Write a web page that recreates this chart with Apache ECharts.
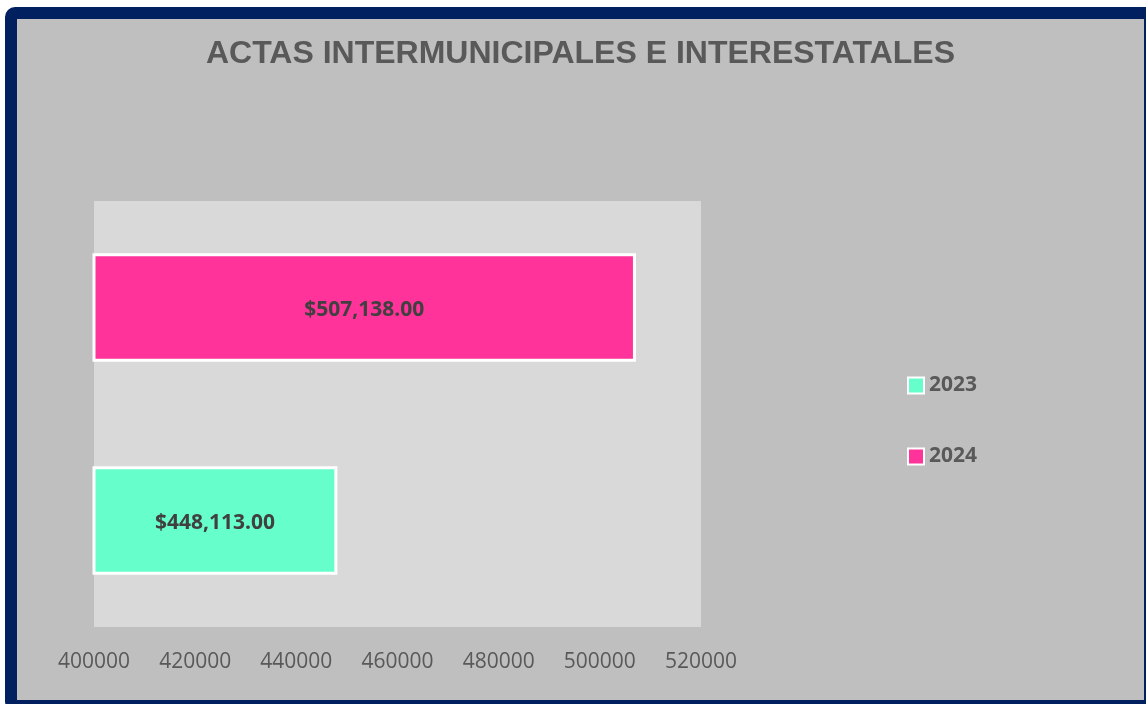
<!DOCTYPE html>
<html>
<head>
<meta charset="utf-8">
<script src="https://cdn.jsdelivr.net/npm/echarts@6/dist/echarts.min.js"></script>
<style>
  html, body { margin: 0; padding: 0; background: #ffffff; overflow: hidden; width: 1146px; height: 704px; }
  #frame {
    position: absolute; left: 5px; top: 7px;
    width: 1127px; height: 681px;
    border: 12px solid #002060; border-radius: 10px;
    background: #bfbfbf; overflow: hidden;
  }
  #chart { width: 1127px; height: 681px; }
</style>
</head>
<body>
<div id="frame"><div id="chart"></div></div>
<script>
// categories (bottom to top) and values
var years = ['2023', '2024'];
var values2023 = [448113, '-'];
var values2024 = ['-', 507138];
var axisMin = 400000, axisMax = 520000, axisStep = 20000;

var chart = echarts.init(document.getElementById('chart'), null, { renderer: 'canvas' });

function money(v) {
  return '$' + Number(v).toLocaleString('en-US', { minimumFractionDigits: 2, maximumFractionDigits: 2 });
}

var labelStyle = {
  show: true,
  position: 'inside',
  offset: [0, 3],
  color: '#404040',
  fontFamily: '"Open Sans", "Noto Sans", sans-serif',
  fontWeight: 'bold',
  fontSize: 21,
  formatter: function (p) { return money(p.value); }
};

var option = {
  backgroundColor: '#bfbfbf',
  animation: false,
  title: {
    text: 'ACTAS INTERMUNICIPALES E INTERESTATALES',
    left: 'center',
    top: 14,
    textStyle: { color: '#595959', fontFamily: '"Liberation Sans", Arial, sans-serif', fontWeight: 'bold', fontSize: 32 }
  },
  legend: {
    orient: 'vertical',
    left: 885,
    top: 351,
    icon: 'rect',
    itemWidth: 16,
    itemHeight: 16,
    itemGap: 50,
    itemTextGap: 6,
    data: ['2023', '2024'],
    textStyle: { color: '#595959', fontFamily: '"Open Sans", "Noto Sans", sans-serif', fontWeight: 'bold', fontSize: 21 }
  },
  grid: {
    left: 77, right: 443, top: 182, bottom: 73,
    show: true, backgroundColor: '#d9d9d9', borderWidth: 0,
    containLabel: false
  },
  xAxis: {
    type: 'value',
    min: axisMin, max: axisMax, interval: axisStep,
    axisLine: { show: false },
    axisTick: { show: false },
    splitLine: { show: false },
    axisLabel: {
      color: '#595959', fontFamily: '"Open Sans", "Noto Sans", sans-serif', fontSize: 21, margin: 25,
      formatter: function (v) { return String(v); }
    }
  },
  yAxis: {
    type: 'category',
    data: years,
    axisLine: { show: false },
    axisTick: { show: false },
    axisLabel: { show: false }
  },
  series: [
    {
      name: '2023', type: 'bar', stack: 'all', barWidth: '51%',
      data: values2023,
      itemStyle: { color: '#66ffcc', borderColor: '#ffffff', borderWidth: 3 },
      label: labelStyle
    },
    {
      name: '2024', type: 'bar', stack: 'all', barWidth: '51%',
      data: values2024,
      itemStyle: { color: '#ff3399', borderColor: '#ffffff', borderWidth: 3 },
      label: labelStyle
    }
  ]
};

chart.setOption(option);
window.addEventListener('resize', function () { chart.resize(); });
</script>
</body>
</html>
